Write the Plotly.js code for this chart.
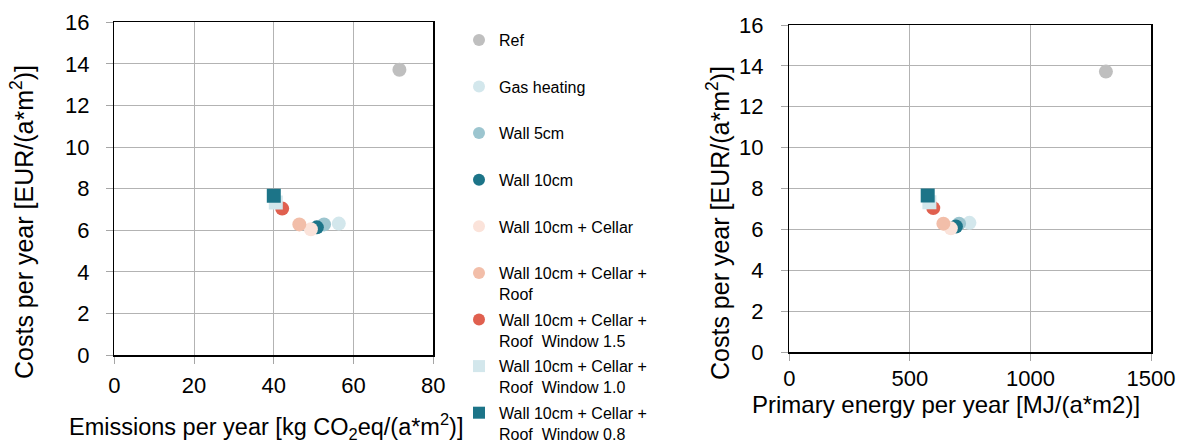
<!DOCTYPE html>
<html>
<head>
<meta charset="utf-8">
<script src="https://cdn.plot.ly/plotly-3.0.1.min.js"></script>
<style>html,body{margin:0;padding:0;background:#fff;overflow:hidden;}#wrap{width:1185px;height:441px;overflow:hidden;}#chart{width:1185px;height:460px;}</style>
</head>
<body>
<div id="wrap"><div id="chart"></div></div>
<script>
// ---- data ----
const scenarioNames = [
  "Ref<br>&nbsp;",
  "Gas heating<br>&nbsp;",
  "Wall 5cm<br>&nbsp;",
  "Wall 10cm<br>&nbsp;",
  "Wall 10cm + Cellar<br>&nbsp;",
  "Wall 10cm + Cellar +<br>Roof",
  "Wall 10cm + Cellar +<br>Roof  Window 1.5",
  "Wall 10cm + Cellar +<br>Roof  Window 1.0",
  "Wall 10cm + Cellar +<br>Roof  Window 0.8"
];
const emissions = [71.5, 56.3, 52.6, 50.8, 49.3, 46.4, 42.1, 40.5, 40.0];
const primaryEnergy = [1313, 747, 704, 691, 670, 639, 597, 581, 574];
const costs = [13.72, 6.32, 6.28, 6.14, 6.05, 6.28, 7.04, 7.33, 7.66];
const markerColors = ["#bfbfbf", "#d3e7ec", "#9cc5cf", "#1c7488", "#fbe3da", "#f2bea9", "#e0604f", "#d3e7ec", "#1c7488"];
const markerSymbols = ["circle", "circle", "circle", "circle", "circle", "circle", "circle", "square", "square"];
const xTicksLeft = [0, 20, 40, 60, 80];
const xTicksRight = [0, 500, 1000, 1500];
const yTicks = [0, 2, 4, 6, 8, 10, 12, 14, 16];

// ---- traces ----
const traces = [];
scenarioNames.forEach((name, i) => {
  traces.push({
    type: "scatter", mode: "markers", name: name,
    legendgroup: "g" + i,
    x: [emissions[i]], y: [costs[i]], xaxis: "x", yaxis: "y",
    marker: {color: markerColors[i], symbol: markerSymbols[i], size: 14, line: {width: 0}},
    hoverinfo: "x+y"
  });
});
scenarioNames.forEach((name, i) => {
  traces.push({
    type: "scatter", mode: "markers", name: name, showlegend: false,
    legendgroup: "g" + i,
    x: [primaryEnergy[i]], y: [costs[i]], xaxis: "x2", yaxis: "y2",
    marker: {color: markerColors[i], symbol: markerSymbols[i], size: 14, line: {width: 0}},
    hoverinfo: "x+y"
  });
});

const W = 1185, H = 460;
const px = v => 1 - v / H;  // pixel-from-top -> paper y
const FONT = "Liberation Sans, Arial, sans-serif";
const axisCommon = {
  showgrid: true, gridcolor: "#b3b3b3", gridwidth: 1,
  showline: true, linecolor: "#000", linewidth: 1.5, mirror: true,
  ticks: "outside", ticklen: 7, tickcolor: "#a6a6a6", tickwidth: 1,
  zeroline: false, fixedrange: true,
  tickfont: {family: FONT, size: 22, color: "#000"}
};

const layout = {
  width: W, height: H,
  margin: {l: 0, r: 0, t: 0, b: 0},
  paper_bgcolor: "#fff", plot_bgcolor: "#fff",
  font: {family: FONT, color: "#000"},
  showlegend: true,
  xaxis: Object.assign({}, axisCommon, {domain: [114.3 / W, 433.3 / W], range: [0, 80], tickvals: xTicksLeft, anchor: "y", ticklabelstandoff: 3}),
  yaxis: Object.assign({}, axisCommon, {domain: [px(355), px(22.3)], range: [0, 16], tickvals: yTicks, anchor: "x", ticklabelstandoff: 12}),
  xaxis2: Object.assign({}, axisCommon, {domain: [789.3 / W, 1151 / W], range: [0, 1500], tickvals: xTicksRight, anchor: "y2", ticklabelstandoff: -1}),
  yaxis2: Object.assign({}, axisCommon, {domain: [px(352), px(25)], range: [0, 16], tickvals: yTicks, anchor: "x2", ticklabelstandoff: 13}),
  legend: {
    x: 459 / W, y: px(23), xanchor: "left", yanchor: "top",
    xref: "paper", yref: "paper",
    font: {family: FONT, size: 16, color: "#000"},
    valign: "top", itemsizing: "constant",
    traceorder: "grouped", tracegroupgap: 2,
    bgcolor: "rgba(0,0,0,0)", borderwidth: 0
  },
  annotations: [
    {text: "Costs per year [EUR/(a*m<sup>2</sup>)]", xref: "paper", yref: "paper", x: 22 / W, y: px(222),
     xanchor: "center", yanchor: "middle",
     textangle: -90, showarrow: false, font: {family: FONT, size: 25, color: "#000"}},
    {text: "Emissions per year [kg CO<sub>2</sub>eq/(a*m<sup>2</sup>)]", xref: "paper", yref: "paper", x: 266 / W, y: px(426),
     xanchor: "center", yanchor: "middle",
     showarrow: false, font: {family: FONT, size: 23.5, color: "#000"}},
    {text: "Costs per year [EUR/(a*m<sup>2</sup>)]", xref: "paper", yref: "paper", x: 718 / W, y: px(223),
     xanchor: "center", yanchor: "middle",
     textangle: -90, showarrow: false, font: {family: FONT, size: 25, color: "#000"}},
    {text: "Primary energy per year [MJ/(a*m2)]", xref: "paper", yref: "paper", x: 946 / W, y: px(404),
     xanchor: "center", yanchor: "middle",
     showarrow: false, font: {family: FONT, size: 24, color: "#000"}}
  ]
};

Plotly.newPlot("chart", traces, layout, {displayModeBar: false, staticPlot: true});
</script>
</body>
</html>
